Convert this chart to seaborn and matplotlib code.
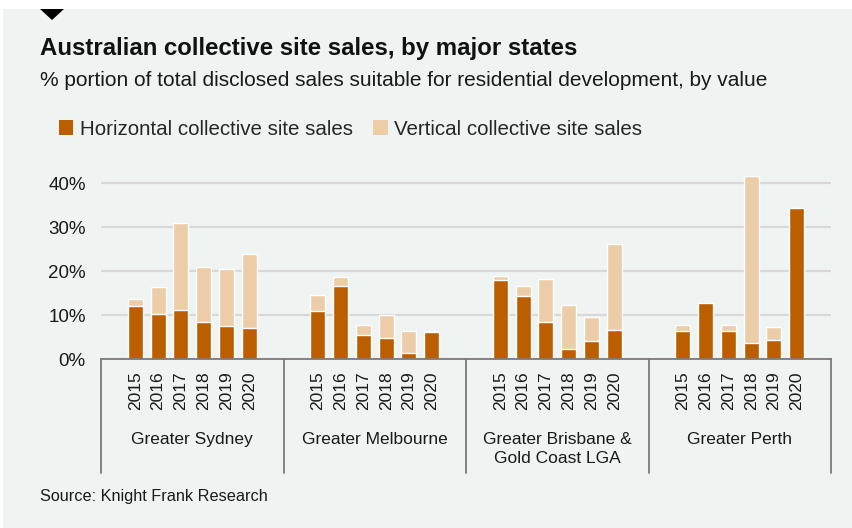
import matplotlib
matplotlib.use("Agg")
import matplotlib.pyplot as plt
from matplotlib.patches import Patch, Polygon, Rectangle
import seaborn as sns
import pandas as pd

# --- datos (% del valor total) ---
YEARS = ['2015', '2016', '2017', '2018', '2019', '2020']
REGIONS = ['Greater Sydney', 'Greater Melbourne',
           'Greater Brisbane &\nGold Coast LGA', 'Greater Perth']

SYDNEY_H = [12.1, 10.3, 11.2, 8.5, 7.6, 7.1]
SYDNEY_V = [1.5, 6.0, 19.6, 12.3, 12.8, 16.8]
MELBOURNE_H = [10.8, 16.7, 5.4, 4.8, 1.3, 6.2]
MELBOURNE_V = [3.7, 1.9, 2.3, 5.1, 5.0, 0.1]
BRISBANE_H = [18.0, 14.4, 8.5, 2.2, 4.0, 6.7]
BRISBANE_V = [0.9, 2.3, 9.6, 10.0, 5.5, 19.5]
PERTH_H = [6.3, 12.7, 6.3, 3.6, 4.4, 34.4]
PERTH_V = [1.4, 0.0, 1.4, 38.1, 2.9, 0.0]

Y_TICKS = [0, 10, 20, 30, 40]

# --- estilo ---
BG = '#eff3f2'
DARK = '#bb5e00'
LIGHT = '#edcda8'
GRID = '#d8d8d8'
AXIS = '#7a7a7a'
FONT = 'Liberation Sans'


def build_frame():
    horiz = [SYDNEY_H, MELBOURNE_H, BRISBANE_H, PERTH_H]
    vert = [SYDNEY_V, MELBOURNE_V, BRISBANE_V, PERTH_V]
    rows, order, labels = [], [], []
    for g in range(len(REGIONS)):
        order.append(f'gap{g}a')
        labels.append('')
        for i, y in enumerate(YEARS):
            key = f'{g}-{y}'
            order.append(key)
            labels.append(y)
            rows.append({'slot': key, 'horizontal': horiz[g][i],
                         'total': horiz[g][i] + vert[g][i]})
        order.append(f'gap{g}b')
        labels.append('')
    return pd.DataFrame(rows), order, labels


def main():
    sns.set_theme(style='white')
    plt.rcParams['font.family'] = [FONT, 'DejaVu Sans']

    df, order, labels = build_frame()

    fig = plt.figure(figsize=(8.52, 5.28), dpi=100)
    fig.patch.set_facecolor(BG)
    # franja blanca superior y triangulo
    fig.add_artist(Rectangle((0, 1 - 9 / 528), 1, 9 / 528, transform=fig.transFigure,
                             facecolor='white', edgecolor='none'))
    fig.add_artist(Rectangle((0, 0), 3 / 852, 1, transform=fig.transFigure,
                             facecolor='white', edgecolor='none'))
    fig.add_artist(Polygon([(40 / 852, 1 - 9 / 528), (64 / 852, 1 - 9 / 528),
                            (52 / 852, 1 - 20 / 528)], closed=True,
                           transform=fig.transFigure, facecolor='black', edgecolor='none'))

    ax = fig.add_axes([101 / 852, 169 / 528, 730 / 852, 198 / 528])
    ax.set_facecolor(BG)

    sns.barplot(data=df, x='slot', y='total', order=order, color=LIGHT,
                width=0.66, errorbar=None, saturation=1, ax=ax)
    sns.barplot(data=df, x='slot', y='horizontal', order=order, color=DARK,
                width=0.66, errorbar=None, saturation=1, ax=ax)

    ax.set_ylim(0, 45)
    ax.set_xlim(-0.5, len(order) - 0.5)
    ax.set_yticks(Y_TICKS, labels=[f'{v}%' for v in Y_TICKS])
    ax.set_xticks(range(len(order)), labels=labels, rotation=90)
    ax.set_xlabel('')
    ax.set_ylabel('')
    ax.tick_params(axis='y', length=0, pad=11, labelsize=13.5, labelcolor='#1a1a1a')
    ax.tick_params(axis='x', length=0, pad=9, labelsize=12.5, labelcolor='#1a1a1a')
    ax.yaxis.grid(True, color=GRID, lw=1.6)
    ax.set_axisbelow(True)
    for s in ['left', 'right', 'top']:
        ax.spines[s].set_visible(False)
    ax.spines['bottom'].set_color(AXIS)
    ax.spines['bottom'].set_linewidth(1.3)

    # separadores de grupos y nombres de regiones
    xt = ax.get_xaxis_transform()
    for g in range(len(REGIONS) + 1):
        b = 8 * g - 0.5
        ax.plot([b, b], [0, -0.576], transform=xt, clip_on=False, color=AXIS, lw=1.3)
    for g, name in enumerate(REGIONS):
        ax.text(8 * g + 3.5, -0.37, name, transform=xt, ha='center', va='top',
                fontsize=12.5, color='#1a1a1a', linespacing=1.3)

    fig.text(40 / 852, 1 - 48 / 528, 'Australian collective site sales, by major states',
             fontsize=17.3, fontweight='bold', color='#111111', va='center')
    fig.text(40 / 852, 1 - 80 / 528,
             '% portion of total disclosed sales suitable for residential development, by value',
             fontsize=15.0, color='#1a1a1a', va='center')
    fig.text(40 / 852, 1 - 497 / 528, 'Source: Knight Frank Research',
             fontsize=11.7, color='#1a1a1a', va='center')

    handles = [Patch(facecolor=DARK, edgecolor='none'), Patch(facecolor=LIGHT, edgecolor='none')]
    fig.legend(handles, ['Horizontal collective site sales', 'Vertical collective site sales'],
               loc='center left', bbox_to_anchor=(59 / 852, 1 - 129 / 528), ncol=2,
               frameon=False, fontsize=14.8, handlelength=0.7, handleheight=0.7,
               handletextpad=0.3, columnspacing=1.0, borderpad=0, borderaxespad=0)

    fig.savefig('out.png', dpi=100, facecolor=BG)
    plt.close(fig)


if __name__ == '__main__':
    main()
